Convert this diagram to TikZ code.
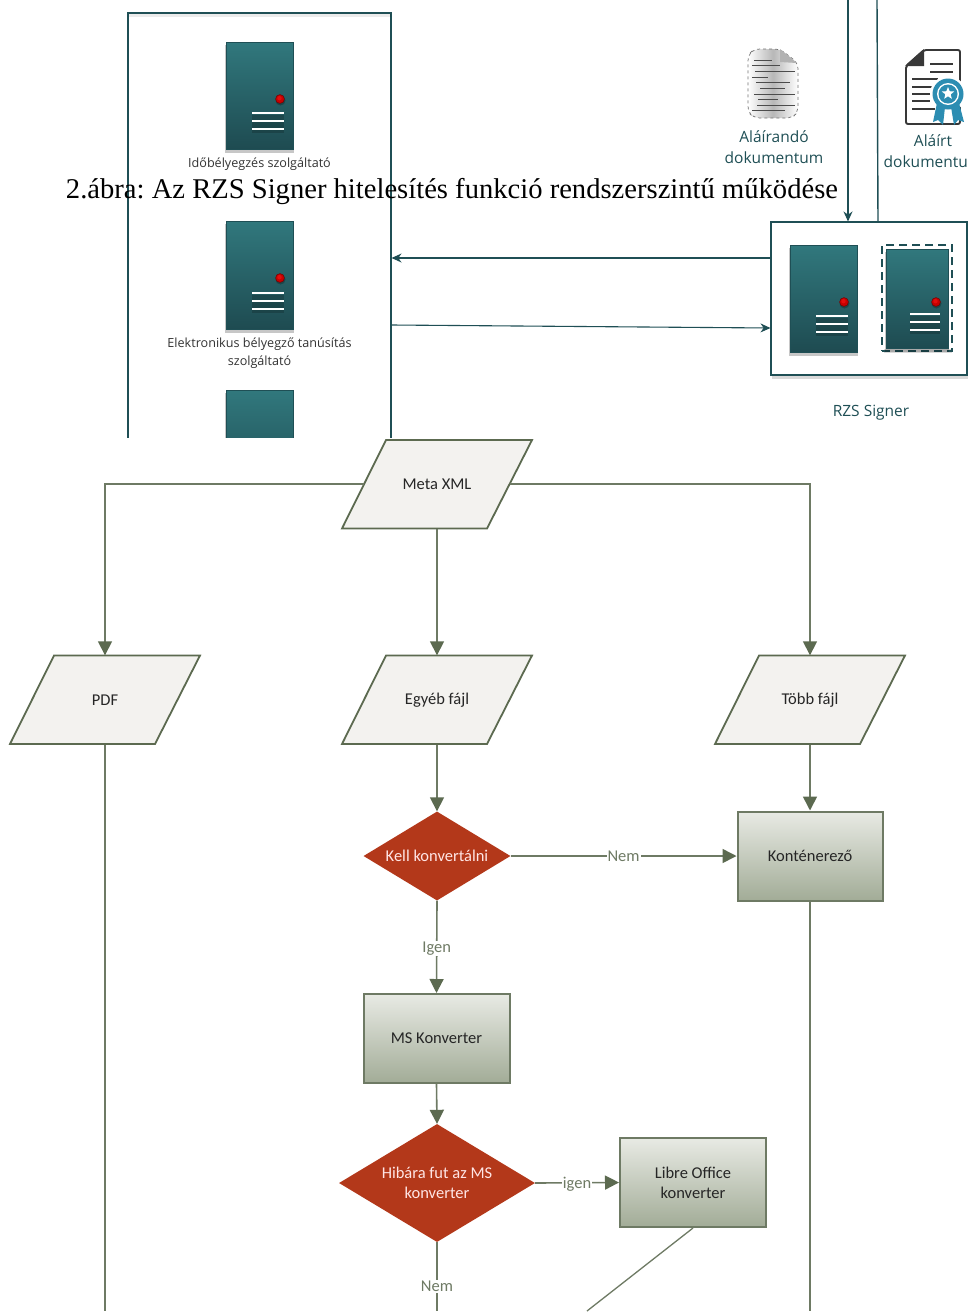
\documentclass[tikz,border=0pt]{standalone}
\usepackage{fontspec}
\setmainfont{Liberation Serif}
\newfontfamily\lblfont{Open Sans}
\newfontfamily\flowfont{Carlito}
\usetikzlibrary{shapes.geometric,shadows,arrows.meta,calc}
\definecolor{teal1}{HTML}{1F4F55}
\definecolor{srvtop}{HTML}{31787D}
\definecolor{srvbot}{HTML}{1E4B51}
\definecolor{flowline}{HTML}{6E7A64}
\definecolor{flowtip}{HTML}{5C6A50}
\definecolor{paral}{HTML}{F3F2EF}
\definecolor{redd}{HTML}{B3381A}
\definecolor{boxtop}{HTML}{E8EAE4}
\definecolor{boxbot}{HTML}{A2AC97}
\definecolor{ribbon}{HTML}{2C8DB2}
\tikzset{
  x=1pt,y=-1pt,
  toparrow/.style={draw=teal1,line width=1.1pt,-{Stealth[length=10pt,width=9pt]}},
  topline/.style={draw=teal1,line width=1.4pt},
  frame/.style={draw=teal1,line width=1.1pt,fill=white},
  server/.style={draw=teal1,line width=.8pt,top color=srvtop,bottom color=srvbot,inner sep=0pt},
  toplabel/.style={font=\lblfont\fontsize{15.5}{21}\selectfont,text=teal1,align=center,inner sep=0pt},
  smalllabel/.style={font=\lblfont\fontsize{12.6}{18}\selectfont,text=black!80,align=center,inner sep=0pt},
  flowarrow/.style={draw=flowline,line width=1.6pt,-{Triangle[length=14pt,width=14pt,color=flowtip]}},
  flowplain/.style={draw=flowline,line width=1.6pt},
  paraslot/.style={minimum width=146pt,minimum height=89pt,inner sep=0pt,font=\flowfont\fontsize{16.5}{20}\selectfont,text=black!85,align=center},
  parashape/.style={draw=flowtip,line width=1.8pt,fill=paral},
  procbox/.style={draw=flowline,line width=2pt,top color=boxtop,bottom color=boxbot,minimum height=89pt,inner sep=0pt,font=\flowfont\fontsize{16.5}{20}\selectfont,text=black!85,align=center},
  decide/.style={diamond,aspect=1.65,fill=redd,inner sep=0pt,font=\flowfont\fontsize{16.5}{20}\selectfont,text=white!90!red,align=center},
  flowlabel/.style={fill=white,inner sep=1pt,font=\flowfont\fontsize{16.5}{20}\selectfont,text=flowline},
}
\newcommand{\srv}[9]{%
  \fill[black,opacity=.22] (#2-1,#3+3) rectangle (#4+1,#5+4);
  \node[server,minimum width=#4pt-#2pt,minimum height=#5pt-#3pt] (#1) at ({(#2+#4)/2},{(#3+#5)/2}) {};
  \fill[black,opacity=.25] (#6+.5,#7+1.5) circle (5);
  \fill[red!78!black,draw=red!45!black,line width=.5pt] (#6,#7) circle (4.4);
  \fill[red!90!white,opacity=.5] (#6-.5,#7-.8) circle (2.2);
  \fill[black,opacity=.18] (#8,#9+2) rectangle (\srvend,#9+20);
  \foreach \yy in {0,8,16}{\draw[white,line width=2.4pt] (#8,#9+\yy) -- (\srvend,#9+\yy);}
}
\newcommand{\srvend}{284}
\begin{document}
\frenchspacing
\begin{tikzpicture}
\useasboundingbox (0,0) rectangle (968,1315);
\fill[white] (0,0) rectangle (968,1315);
\begin{scope}
\clip (0,0) rectangle (968,437);
\fill[black,opacity=.10] (129,15) rectangle (392,18);
\node[frame,minimum width=263pt,minimum height=500pt,inner sep=0pt] (leftbox) at (259.5,263) {};
\fill[black,opacity=.08] (129,14) rectangle (391,17);
\renewcommand{\srvend}{284}
\srv{srvA}{226}{42}{293}{149}{280}{99}{252}{113}
\srv{srvB}{226}{221}{293}{329}{280}{278}{252}{293}
\srv{srvC}{226}{390}{293}{498}{280}{447}{252}{462}
\node[smalllabel] (lblA) at (259.5,164.5) {Időbélyegzés szolgáltató};
\node[smalllabel] (lblB) at (259.5,353.5) {Elektronikus bélyegző tanúsítás\\szolgáltató};
\fill[black,opacity=.15] (772,226) rectangle (968,379);
\node[frame,minimum width=196pt,minimum height=153pt,inner sep=0pt] (rzs) at (869,298.5) {};
\renewcommand{\srvend}{848}
\srv{srvD}{790}{245}{857}{352}{844}{302}{816}{316}
\fill[black,opacity=.15] (884,349) rectangle (952,353);
\node[draw=teal1,line width=1.1pt,dash pattern=on 8pt off 5pt,minimum width=70pt,minimum height=106pt,inner sep=0pt] (dash) at (917,298) {};
\renewcommand{\srvend}{940}
\srv{srvE}{886}{249}{948}{348}{936}{302}{910}{314}
\node[toplabel] (lblR) at (871,413) {RZS Signer};
\node[toplabel] (lblU) at (774,147.5) {Aláírandó\\dokumentum};
\node[toplabel] (lblS) at (933,151) {Aláírt\\dokumentum};
% unsigned document icon
\shade[top color=white,bottom color=white,middle color=black!28,shading angle=90,draw=black!55,dashed,line width=.7pt,rounded corners=6pt]
 (748,55) -- (754,49) -- (780,49) -- (798,63) -- (798,112) -- (792,118) -- (754,118) -- (748,112) -- cycle;
\fill[black!30] (780,49) -- (780,62) -- (797,63) -- cycle;
\foreach \xa/\xb/\yy in {754/772/60,752/780/65,755/795/71,752/768/77,756/790/82,760/785/88,754/795/94,758/778/99,757/795/105,752/785/110}
  \draw[black!70,line width=.7pt] (\xa,\yy) -- (\xb,\yy);
% signed document icon
\draw[black!78,line width=1.9pt,rounded corners=2pt] (906,66) -- (924,50) -- (960,50) -- (960,124) -- (906,124) -- cycle;
\fill[black!78] (905,66) -- (924,49) -- (924,66) -- cycle;
\foreach \xa/\xb/\yy in {930/953/64,930/953/72,912/938/79,912/932/87,912/930/94,912/930/101,912/935/109}
  \draw[black!78,line width=2pt] (\xa,\yy) -- (\xb,\yy);
\fill[white] (948,94) circle (18);
\fill[ribbon] (937,103) -- (945,107) -- (943,125) -- (938,120) -- (933,122) -- cycle;
\fill[ribbon] (951,107) -- (959,103) -- (964,122) -- (958,120) -- (954,125) -- cycle;
\fill[ribbon] (948,94) circle (15.5);
\fill[white] (948,94) circle (11);
\fill[ribbon] (948,94) circle (9.5);
\node[star,star points=5,star point ratio=2.3,fill=white,minimum size=13pt,inner sep=0pt] (rosettestar) at (948,93.5) {};
% connectors
\coordinate (inA) at (848,0);
\coordinate (outA) at (877,0);
\draw[toparrow] (inA) -- (inA |- rzs.north);
\draw[topline] (outA) -- (878,222);
\coordinate (r1) at (rzs.west |- 0,258);
\draw[toparrow] (r1) -- (r1 -| leftbox.east);
\coordinate (l1) at (leftbox.east |- 0,325);
\coordinate (r2) at (rzs.west |- 0,328);
\draw[toparrow] (l1) -- (r2);
\end{scope}
% caption
\node[font=\fontsize{28.6}{34}\selectfont,anchor=base,inner sep=0pt,text=black] (caption) at (452,198) {2.ábra: Az RZS Signer hitelesítés funkció rendszerszintű működése};
% flowchart
\draw[parashape] (342,528.5) -- (386,440) -- (532,440) -- (487,528.5) -- cycle;
\draw[parashape] (10,744) -- (54,655.5) -- (200,655.5) -- (155,744) -- cycle;
\draw[parashape] (342,744) -- (386,655.5) -- (532,655.5) -- (487,744) -- cycle;
\draw[parashape] (715,744) -- (759,655.5) -- (905,655.5) -- (860,744) -- cycle;
\node[paraslot] (meta) at (437,484) {Meta XML};
\node[paraslot] (pdf) at (105,700) {PDF};
\node[paraslot] (egyeb) at (437,700) {Egyéb fájl};
\node[paraslot] (tobb) at (810,700) {Több fájl};
\node[decide,minimum width=147pt,minimum height=89pt] (kell) at (437,856) {Kell konvertálni};
\node[procbox,minimum width=145pt] (kont) at (810,856) {Konténerező};
\node[procbox,minimum width=146pt] (ms) at (436.5,1038.5) {MS Konverter};
\node[decide,minimum width=196pt,minimum height=118pt] (hiba) at (437,1183) {Hibára fut az MS\\konverter};
\node[procbox,minimum width=146pt] (libre) at (693,1182.5) {Libre Office\\konverter};
\coordinate (pdfend) at (105,1311);
\coordinate (kontend) at (810,1311);
\coordinate (hibaend) at (437,1311);
\coordinate (libreend) at (587,1311);
\draw[flowarrow] (meta.west) -| (pdf.north);
\draw[flowarrow] (meta.east) -| (tobb.north);
\draw[flowarrow] (meta.south) -- (egyeb.north);
\draw[flowarrow] (egyeb.south) -- (kell.north);
\draw[flowarrow] (tobb.south) -- (kont.north);
\draw[flowplain] (pdf.south) -- (pdfend);
\draw[flowplain] (kont.south) -- (kontend);
\draw[flowarrow] (kell.east) -- node[flowlabel,pos=.5,inner ysep=0pt] (nem1) {Nem} (kont.west);
\draw[flowarrow] (kell.south) -- node[flowlabel,pos=.52] (igen1) {Igen} (ms.north);
\draw[flowarrow] (ms.south) -- (hiba.north);
\draw[flowarrow] (hiba.east) -- node[flowlabel,pos=.5,inner ysep=0pt,yshift=-1pt] (igen2) {igen} (libre.west);
\draw[flowplain] (hiba.south) -- node[flowlabel,pos=.64] (nem2) {Nem} (hibaend);
\draw[flowline,line width=1.3pt] (libre.south) -- (libreend);
\end{tikzpicture}
\end{document}
